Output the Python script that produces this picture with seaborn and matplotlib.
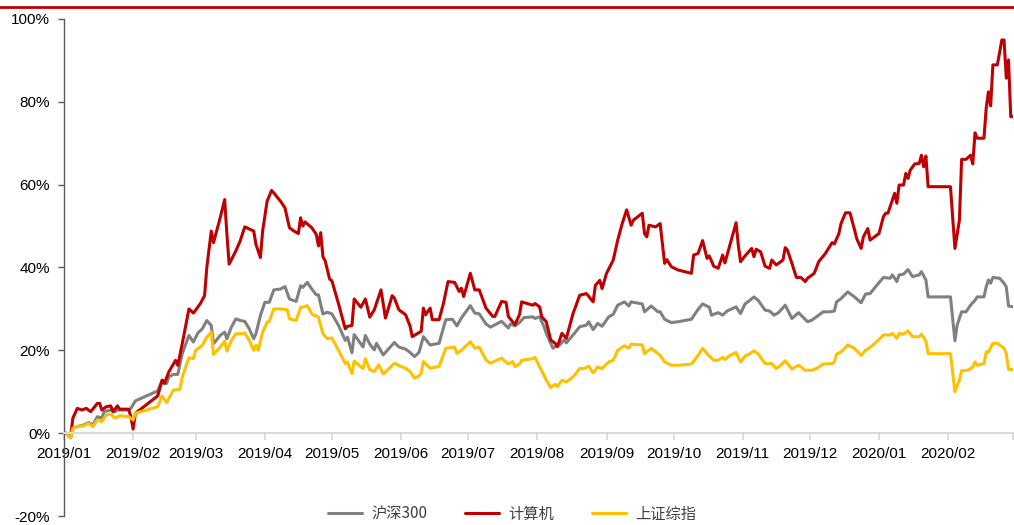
import pandas as pd
import matplotlib
matplotlib.use("Agg")
import matplotlib.pyplot as plt
from matplotlib.lines import Line2D
from matplotlib.ticker import FuncFormatter
import seaborn as sns

# series names and colours (legend order)
series_names = ["沪深300", "计算机", "上证综指"]
series_colors = ["#808080", "#C00000", "#FFC000"]

# month ticks on the x axis (last one is the unlabeled right edge)
month_ticks = ["2019-01-01", "2019-02-01", "2019-03-01", "2019-04-01", "2019-05-01",
               "2019-06-01", "2019-07-01", "2019-08-01", "2019-09-01", "2019-10-01",
               "2019-11-01", "2019-12-01", "2020-01-01", "2020-02-01", "2020-03-01"]
month_labels = ["2019/01", "2019/02", "2019/03", "2019/04", "2019/05", "2019/06",
                "2019/07", "2019/08", "2019/09", "2019/10", "2019/11", "2019/12",
                "2020/01", "2020/02", ""]
y_ticks = [-20, 0, 20, 40, 60, 80, 100]

# 沪深300, cumulative return %
hs300_dates = [
    "2019-01-02", "2019-01-04", "2019-01-05", "2019-01-07", "2019-01-10", "2019-01-12",
    "2019-01-14", "2019-01-16", "2019-01-18", "2019-01-19", "2019-01-22", "2019-01-24",
    "2019-01-25", "2019-01-30", "2019-01-31", "2019-02-02", "2019-02-12", "2019-02-14",
    "2019-02-16", "2019-02-17", "2019-02-19", "2019-02-21", "2019-02-23", "2019-02-26",
    "2019-02-28", "2019-03-02", "2019-03-04", "2019-03-06", "2019-03-08", "2019-03-09",
    "2019-03-12", "2019-03-14", "2019-03-15", "2019-03-17", "2019-03-19", "2019-03-21",
    "2019-03-23", "2019-03-25", "2019-03-27", "2019-03-28", "2019-03-30", "2019-04-01",
    "2019-04-03", "2019-04-05", "2019-04-08", "2019-04-10", "2019-04-12", "2019-04-15",
    "2019-04-17", "2019-04-18", "2019-04-20", "2019-04-22", "2019-04-24", "2019-04-25",
    "2019-04-27", "2019-04-29", "2019-05-01", "2019-05-04", "2019-05-07", "2019-05-08",
    "2019-05-10", "2019-05-11", "2019-05-15", "2019-05-16", "2019-05-18", "2019-05-20",
    "2019-05-21", "2019-05-24", "2019-05-26", "2019-05-29", "2019-05-31", "2019-06-03",
    "2019-06-05", "2019-06-07", "2019-06-09", "2019-06-11", "2019-06-14", "2019-06-18",
    "2019-06-21", "2019-06-24", "2019-06-26", "2019-06-28", "2019-07-02", "2019-07-04",
    "2019-07-06", "2019-07-09", "2019-07-11", "2019-07-16", "2019-07-19", "2019-07-20",
    "2019-07-22", "2019-07-24", "2019-07-26", "2019-07-30", "2019-07-31", "2019-08-02",
    "2019-08-04", "2019-08-05", "2019-08-08", "2019-08-09", "2019-08-11", "2019-08-13",
    "2019-08-14", "2019-08-17", "2019-08-20", "2019-08-23", "2019-08-24", "2019-08-26",
    "2019-08-28", "2019-08-30", "2019-09-02", "2019-09-04", "2019-09-06", "2019-09-09",
    "2019-09-11", "2019-09-12", "2019-09-17", "2019-09-18", "2019-09-21", "2019-09-24",
    "2019-09-25", "2019-09-27", "2019-09-30", "2019-10-03", "2019-10-09", "2019-10-12",
    "2019-10-14", "2019-10-17", "2019-10-18", "2019-10-21", "2019-10-23", "2019-10-25",
    "2019-10-29", "2019-10-31", "2019-11-02", "2019-11-04", "2019-11-06", "2019-11-08",
    "2019-11-11", "2019-11-13", "2019-11-15", "2019-11-17", "2019-11-20", "2019-11-23",
    "2019-11-26", "2019-11-30", "2019-12-02", "2019-12-04", "2019-12-07", "2019-12-10",
    "2019-12-12", "2019-12-13", "2019-12-15", "2019-12-18", "2019-12-21", "2019-12-24",
    "2019-12-26", "2019-12-28", "2019-12-31", "2020-01-03", "2020-01-06", "2020-01-07",
    "2020-01-09", "2020-01-10", "2020-01-12", "2020-01-14", "2020-01-16", "2020-01-19",
    "2020-01-20", "2020-01-22", "2020-01-23", "2020-02-02", "2020-02-04", "2020-02-05",
    "2020-02-07", "2020-02-09", "2020-02-11", "2020-02-13", "2020-02-14", "2020-02-17",
    "2020-02-18", "2020-02-19", "2020-02-20", "2020-02-21", "2020-02-24", "2020-02-26",
    "2020-02-27", "2020-02-28", "2020-03-01"]
hs300_values = [
    0.0, -0.8, 1.2, 1.6, 2.0, 2.6, 2.0, 4.0, 3.6, 5.2, 5.6, 5.2,
    5.6, 5.6, 6.0, 7.8, 10.2, 12.8, 12.0, 13.6, 14.2, 14.2, 19.2, 23.6,
    22.0, 24.2, 25.2, 27.2, 26.0, 21.6, 23.6, 24.4, 22.8, 25.6, 27.6, 27.2,
    27.0, 25.2, 22.8, 24.0, 28.4, 31.6, 31.6, 34.6, 34.8, 35.4, 32.4, 31.8,
    35.6, 35.2, 36.4, 34.8, 33.4, 33.4, 28.8, 29.2, 28.8, 26.0, 22.4, 23.2,
    19.4, 23.8, 20.8, 23.6, 21.5, 20.1, 21.7, 18.9, 20.1, 21.9, 20.8, 20.3,
    19.5, 18.5, 19.5, 23.3, 21.3, 21.7, 27.4, 27.5, 25.9, 27.8, 30.8, 29.0,
    28.8, 26.4, 25.6, 27.0, 25.4, 26.4, 25.9, 26.7, 27.9, 28.1, 27.7, 28.1,
    25.7, 24.1, 20.5, 20.9, 21.3, 22.5, 21.8, 23.7, 25.7, 26.1, 26.9, 25.0,
    26.5, 25.8, 28.1, 28.7, 30.9, 31.7, 30.7, 31.7, 31.2, 29.3, 30.7, 29.3,
    29.3, 27.5, 26.7, 26.9, 27.5, 29.9, 31.2, 30.4, 28.5, 29.1, 28.5, 29.5,
    30.5, 28.9, 31.2, 32.0, 32.9, 32.0, 29.7, 29.5, 28.5, 29.1, 30.9, 27.7,
    29.1, 26.9, 27.3, 28.1, 29.3, 29.3, 29.5, 31.7, 32.5, 34.1, 32.9, 31.5,
    33.6, 33.7, 35.7, 37.6, 37.4, 38.2, 36.6, 38.2, 38.4, 39.5, 37.8, 38.2,
    39.0, 37.0, 32.9, 32.9, 22.3, 26.1, 29.3, 29.3, 30.9, 32.1, 32.9, 32.9,
    35.3, 37.0, 36.2, 37.6, 37.4, 36.2, 35.3, 30.7, 30.5]

# 计算机, cumulative return %
computer_dates = [
    "2019-01-02", "2019-01-04", "2019-01-05", "2019-01-07", "2019-01-09", "2019-01-11",
    "2019-01-13", "2019-01-16", "2019-01-17", "2019-01-18", "2019-01-20", "2019-01-22",
    "2019-01-23", "2019-01-25", "2019-01-26", "2019-01-30", "2019-01-31", "2019-02-01",
    "2019-02-02", "2019-02-12", "2019-02-14", "2019-02-15", "2019-02-17", "2019-02-20",
    "2019-02-21", "2019-02-23", "2019-02-26", "2019-02-28", "2019-03-03", "2019-03-05",
    "2019-03-06", "2019-03-08", "2019-03-09", "2019-03-10", "2019-03-12", "2019-03-14",
    "2019-03-15", "2019-03-16", "2019-03-19", "2019-03-21", "2019-03-23", "2019-03-27",
    "2019-03-28", "2019-03-30", "2019-03-31", "2019-04-02", "2019-04-04", "2019-04-05",
    "2019-04-08", "2019-04-10", "2019-04-12", "2019-04-14", "2019-04-16", "2019-04-17",
    "2019-04-18", "2019-04-19", "2019-04-22", "2019-04-24", "2019-04-25", "2019-04-26",
    "2019-04-27", "2019-04-28", "2019-04-30", "2019-05-01", "2019-05-04", "2019-05-07",
    "2019-05-08", "2019-05-10", "2019-05-11", "2019-05-14", "2019-05-16", "2019-05-18",
    "2019-05-20", "2019-05-23", "2019-05-25", "2019-05-28", "2019-05-29", "2019-05-31",
    "2019-06-03", "2019-06-05", "2019-06-06", "2019-06-10", "2019-06-11", "2019-06-12",
    "2019-06-14", "2019-06-15", "2019-06-18", "2019-06-20", "2019-06-22", "2019-06-25",
    "2019-06-27", "2019-06-28", "2019-06-29", "2019-06-30", "2019-07-02", "2019-07-04",
    "2019-07-06", "2019-07-09", "2019-07-12", "2019-07-13", "2019-07-16", "2019-07-18",
    "2019-07-19", "2019-07-22", "2019-07-24", "2019-07-25", "2019-07-30", "2019-07-31",
    "2019-08-02", "2019-08-03", "2019-08-05", "2019-08-07", "2019-08-09", "2019-08-10",
    "2019-08-11", "2019-08-12", "2019-08-14", "2019-08-17", "2019-08-20", "2019-08-23",
    "2019-08-26", "2019-08-27", "2019-08-29", "2019-08-30", "2019-09-01", "2019-09-04",
    "2019-09-06", "2019-09-08", "2019-09-10", "2019-09-12", "2019-09-13", "2019-09-17",
    "2019-09-18", "2019-09-19", "2019-09-20", "2019-09-23", "2019-09-25", "2019-09-27",
    "2019-09-28", "2019-09-30", "2019-10-03", "2019-10-09", "2019-10-10", "2019-10-12",
    "2019-10-14", "2019-10-16", "2019-10-17", "2019-10-19", "2019-10-21", "2019-10-23",
    "2019-10-24", "2019-10-26", "2019-10-29", "2019-10-30", "2019-10-31", "2019-11-02",
    "2019-11-05", "2019-11-06", "2019-11-07", "2019-11-09", "2019-11-11", "2019-11-13",
    "2019-11-14", "2019-11-16", "2019-11-19", "2019-11-20", "2019-11-21", "2019-11-23",
    "2019-11-25", "2019-11-27", "2019-11-29", "2019-11-30", "2019-12-03", "2019-12-05",
    "2019-12-08", "2019-12-11", "2019-12-12", "2019-12-14", "2019-12-15", "2019-12-17",
    "2019-12-19", "2019-12-21", "2019-12-22", "2019-12-24", "2019-12-25", "2019-12-27",
    "2019-12-28", "2019-12-30", "2020-01-01", "2020-01-03", "2020-01-04", "2020-01-05",
    "2020-01-07", "2020-01-08", "2020-01-09", "2020-01-10", "2020-01-12", "2020-01-13",
    "2020-01-14", "2020-01-15", "2020-01-17", "2020-01-19", "2020-01-20", "2020-01-21",
    "2020-01-22", "2020-01-23", "2020-02-02", "2020-02-04", "2020-02-06", "2020-02-07",
    "2020-02-09", "2020-02-11", "2020-02-12", "2020-02-13", "2020-02-14", "2020-02-17",
    "2020-02-18", "2020-02-19", "2020-02-20", "2020-02-21", "2020-02-23", "2020-02-25",
    "2020-02-26", "2020-02-27", "2020-02-28", "2020-02-29", "2020-03-01"]
computer_values = [
    0.0, -1.0, 3.6, 6.0, 5.6, 6.0, 5.2, 7.2, 7.2, 5.6, 6.4, 6.6,
    5.2, 6.6, 5.8, 5.8, 4.0, 1.0, 4.8, 9.0, 12.8, 12.0, 14.8, 17.6,
    16.4, 21.6, 30.0, 29.0, 31.2, 33.2, 40.0, 48.8, 46.0, 48.0, 52.0, 56.4,
    48.0, 40.8, 44.0, 46.5, 49.8, 48.8, 45.6, 42.4, 48.8, 56.0, 58.6, 58.0,
    56.0, 54.4, 49.6, 48.8, 48.2, 52.0, 50.0, 51.0, 49.6, 48.0, 45.2, 48.4,
    42.6, 41.6, 37.2, 36.8, 31.2, 25.2, 25.8, 26.0, 32.4, 30.4, 32.4, 28.0,
    29.8, 34.6, 27.8, 33.2, 32.6, 29.8, 28.6, 25.9, 23.3, 24.6, 30.2, 28.6,
    30.2, 27.4, 27.4, 31.4, 36.6, 36.4, 34.2, 35.0, 33.0, 34.8, 38.6, 34.6,
    34.6, 30.2, 28.2, 28.2, 31.8, 31.6, 28.2, 26.2, 28.6, 31.7, 30.9, 31.3,
    30.5, 28.1, 26.9, 22.5, 21.7, 20.9, 22.5, 24.1, 22.9, 28.9, 33.3, 33.7,
    31.7, 35.7, 36.9, 34.9, 38.6, 41.8, 46.6, 50.6, 53.9, 50.2, 51.4, 53.1,
    48.2, 47.4, 50.2, 49.8, 50.6, 41.0, 41.9, 40.2, 39.4, 38.6, 43.0, 43.4,
    46.5, 42.2, 42.8, 40.3, 39.8, 43.0, 41.1, 45.0, 50.8, 45.4, 41.4, 42.8,
    44.6, 42.6, 44.4, 43.8, 40.3, 39.8, 41.8, 40.6, 41.8, 44.8, 44.2, 41.0,
    37.6, 37.6, 36.6, 37.4, 38.6, 41.4, 43.4, 46.0, 45.7, 48.1, 50.6, 53.2,
    53.2, 49.2, 47.0, 44.6, 47.4, 49.4, 46.6, 47.4, 48.2, 52.3, 53.1, 53.1,
    56.3, 57.9, 55.5, 59.9, 59.9, 62.7, 61.5, 63.5, 65.0, 65.1, 67.1, 64.3,
    66.9, 59.5, 59.5, 44.6, 51.4, 66.1, 66.1, 67.1, 65.0, 72.5, 71.2, 71.2,
    78.4, 82.4, 79.0, 88.9, 88.9, 94.9, 94.9, 85.7, 90.1, 76.4, 76.4]

# 上证综指, cumulative return %
sse_dates = [
    "2019-01-02", "2019-01-04", "2019-01-05", "2019-01-07", "2019-01-10", "2019-01-12",
    "2019-01-14", "2019-01-16", "2019-01-18", "2019-01-20", "2019-01-22", "2019-01-24",
    "2019-01-26", "2019-01-30", "2019-02-01", "2019-02-02", "2019-02-12", "2019-02-14",
    "2019-02-16", "2019-02-19", "2019-02-22", "2019-02-23", "2019-02-26", "2019-02-28",
    "2019-03-01", "2019-03-04", "2019-03-06", "2019-03-08", "2019-03-09", "2019-03-12",
    "2019-03-14", "2019-03-15", "2019-03-17", "2019-03-19", "2019-03-21", "2019-03-23",
    "2019-03-25", "2019-03-27", "2019-03-28", "2019-03-29", "2019-03-31", "2019-04-02",
    "2019-04-03", "2019-04-05", "2019-04-08", "2019-04-11", "2019-04-12", "2019-04-15",
    "2019-04-17", "2019-04-18", "2019-04-20", "2019-04-22", "2019-04-25", "2019-04-27",
    "2019-04-29", "2019-05-01", "2019-05-04", "2019-05-07", "2019-05-08", "2019-05-10",
    "2019-05-11", "2019-05-15", "2019-05-16", "2019-05-18", "2019-05-20", "2019-05-22",
    "2019-05-24", "2019-05-26", "2019-05-29", "2019-06-01", "2019-06-03", "2019-06-05",
    "2019-06-07", "2019-06-09", "2019-06-10", "2019-06-11", "2019-06-14", "2019-06-18",
    "2019-06-21", "2019-06-25", "2019-06-26", "2019-06-28", "2019-07-02", "2019-07-04",
    "2019-07-06", "2019-07-09", "2019-07-11", "2019-07-16", "2019-07-19", "2019-07-21",
    "2019-07-22", "2019-07-24", "2019-07-25", "2019-07-30", "2019-07-31", "2019-08-02",
    "2019-08-04", "2019-08-05", "2019-08-07", "2019-08-09", "2019-08-10", "2019-08-12",
    "2019-08-14", "2019-08-17", "2019-08-20", "2019-08-22", "2019-08-24", "2019-08-26",
    "2019-08-28", "2019-08-30", "2019-09-02", "2019-09-04", "2019-09-06", "2019-09-09",
    "2019-09-11", "2019-09-12", "2019-09-17", "2019-09-18", "2019-09-21", "2019-09-24",
    "2019-09-25", "2019-09-27", "2019-09-30", "2019-10-03", "2019-10-09", "2019-10-12",
    "2019-10-14", "2019-10-16", "2019-10-19", "2019-10-21", "2019-10-23", "2019-10-24",
    "2019-10-26", "2019-10-29", "2019-10-31", "2019-11-02", "2019-11-04", "2019-11-06",
    "2019-11-08", "2019-11-11", "2019-11-14", "2019-11-16", "2019-11-18", "2019-11-20",
    "2019-11-23", "2019-11-26", "2019-11-29", "2019-12-02", "2019-12-04", "2019-12-07",
    "2019-12-11", "2019-12-12", "2019-12-13", "2019-12-15", "2019-12-18", "2019-12-21",
    "2019-12-24", "2019-12-26", "2019-12-28", "2019-12-31", "2020-01-03", "2020-01-06",
    "2020-01-07", "2020-01-09", "2020-01-10", "2020-01-12", "2020-01-14", "2020-01-16",
    "2020-01-19", "2020-01-20", "2020-01-22", "2020-01-23", "2020-02-02", "2020-02-04",
    "2020-02-06", "2020-02-07", "2020-02-10", "2020-02-12", "2020-02-13", "2020-02-14",
    "2020-02-17", "2020-02-18", "2020-02-19", "2020-02-21", "2020-02-23", "2020-02-26",
    "2020-02-27", "2020-02-28", "2020-03-01"]
sse_values = [
    0.0, -1.2, 1.2, 1.6, 1.8, 2.4, 1.6, 3.2, 2.8, 4.4, 4.6, 3.6,
    4.2, 4.0, 3.2, 4.8, 6.4, 9.0, 7.4, 10.4, 10.6, 13.6, 18.2, 18.0,
    20.0, 21.2, 23.2, 24.4, 19.0, 20.8, 22.2, 19.8, 22.4, 24.0, 24.0, 24.2,
    22.4, 20.0, 21.2, 20.0, 24.4, 26.8, 27.0, 30.0, 30.0, 29.8, 27.6, 27.2,
    30.4, 30.4, 30.8, 28.8, 28.0, 24.0, 22.8, 23.0, 20.0, 16.8, 17.2, 14.4,
    17.4, 15.6, 18.0, 15.3, 14.9, 16.5, 14.3, 15.3, 16.9, 16.1, 15.7, 14.9,
    13.3, 13.8, 14.5, 17.3, 15.7, 16.1, 20.5, 20.8, 19.3, 20.0, 22.1, 20.5,
    20.8, 17.7, 16.9, 18.1, 16.7, 17.3, 16.1, 16.7, 17.6, 18.0, 18.3, 16.0,
    14.0, 12.8, 11.0, 11.8, 11.2, 12.8, 12.4, 13.6, 15.6, 15.6, 16.2, 14.6,
    16.0, 15.6, 17.2, 17.6, 20.0, 21.1, 20.5, 21.5, 21.3, 19.2, 20.5, 19.2,
    18.8, 17.2, 16.4, 16.4, 16.7, 18.8, 20.5, 19.2, 17.6, 17.6, 18.3, 17.8,
    18.7, 19.5, 17.2, 18.6, 19.1, 19.9, 19.1, 16.8, 16.8, 15.6, 16.4, 17.5,
    15.5, 16.4, 15.2, 15.2, 15.6, 16.7, 16.8, 17.2, 19.1, 19.6, 21.3, 20.5,
    18.8, 20.0, 20.7, 22.1, 23.7, 23.7, 24.1, 22.9, 24.1, 23.9, 24.7, 23.3,
    23.3, 23.9, 22.3, 19.2, 19.2, 10.0, 12.8, 15.1, 15.2, 16.0, 17.2, 16.4,
    16.8, 19.6, 19.6, 21.7, 21.7, 20.5, 19.2, 15.4, 15.4]

sns.set_theme(style="white")
plt.rcParams['font.family'] = ['Liberation Sans', 'Noto Sans CJK SC', 'DejaVu Sans']

frames = []
for name, dates, values in zip(series_names,
                               [hs300_dates, computer_dates, sse_dates],
                               [hs300_values, computer_values, sse_values]):
    frames.append(pd.DataFrame({"date": pd.to_datetime(dates), "value": values, "series": name}))
df = pd.concat(frames, ignore_index=True)

fig = plt.figure(figsize=(10.14, 5.25), dpi=100)
ax = fig.add_axes([0.063, 0.017, 0.936, 0.947])

sns.lineplot(data=df, x="date", y="value", hue="series", hue_order=series_names,
             palette=series_colors, linewidth=2.2, estimator=None, ax=ax)

handles, labels = ax.get_legend_handles_labels()
ax.get_legend().remove()

ax.set_xlim(pd.Timestamp(month_ticks[0]), pd.Timestamp(month_ticks[-1]))
ax.set_ylim(-20, 100)
ax.set_xticks(pd.to_datetime(month_ticks))
ax.set_xticklabels(month_labels)
ax.set_yticks(y_ticks)
ax.yaxis.set_major_formatter(FuncFormatter(lambda v, p: f"{int(v)}%"))
ax.set_xlabel("")
ax.set_ylabel("")

for s in ["top", "right"]:
    ax.spines[s].set_visible(False)
ax.spines["bottom"].set_position(("data", 0))
ax.spines["bottom"].set_color("#d9d9d9")
ax.spines["bottom"].set_linewidth(1.5)
ax.spines["left"].set_color("#595959")
ax.spines["left"].set_linewidth(1.0)

ax.tick_params(axis="x", direction="out", length=5, width=1.3, color="#d9d9d9",
               labelsize=11, labelcolor="#000000", pad=5, bottom=True)
ax.tick_params(axis="y", direction="out", length=4, width=1.0, color="#595959",
               labelsize=11, labelcolor="#000000", pad=6, left=True)
ax.grid(False)

fig.legend(handles, labels, loc="center", bbox_to_anchor=(0.505, 0.021), ncol=3,
           frameon=False, handlelength=2.2, handletextpad=0.6, columnspacing=2.5,
           prop={"family": "Noto Sans CJK SC", "size": 11}, labelcolor="#404040")

# red rule of the report page above the chart
fig.add_artist(Line2D([0, 1], [1 - 7 / 525, 1 - 7 / 525], transform=fig.transFigure,
                      color="#C00000", linewidth=2))

fig.savefig("out.png", dpi=100)
